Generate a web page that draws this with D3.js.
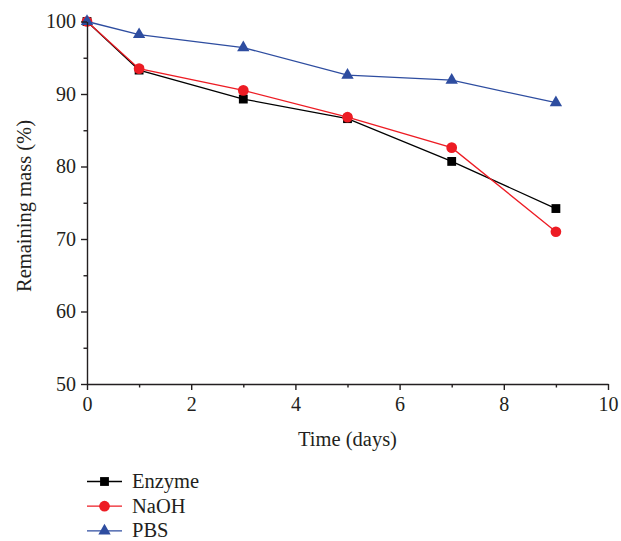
<!DOCTYPE html>
<html>
<head>
<meta charset="utf-8">
<script src="https://cdn.jsdelivr.net/npm/d3@7"></script>
<style>
  body { margin: 0; background: #fff; }
  svg text { font-family: "Liberation Serif", "DejaVu Serif", serif; fill: #231f20; }
</style>
</head>
<body>
<svg id="chart" width="621" height="541"></svg>
<script>
const days = [0, 1, 3, 5, 7, 9]
const enzyme = [100, 93.3, 89.3, 86.6, 80.7, 74.2]
const naoh = [100, 93.5, 90.5, 86.8, 82.6, 71.0]
const pbs = [100, 98.2, 96.4, 92.6, 91.9, 88.8]
const seriesNames = ['Enzyme', 'NaOH', 'PBS']
const xTicks = [0, 2, 4, 6, 8, 10]
const yTicks = [50, 60, 70, 80, 90, 100]

const series = [
  { name: seriesNames[0], values: enzyme, color: '#000000', shape: d3.symbolSquare, size: 78 },
  { name: seriesNames[1], values: naoh, color: '#ed1c24', shape: d3.symbolCircle, size: 90 },
  { name: seriesNames[2], values: pbs, color: '#2e4da0', shape: d3.symbolTriangle, size: 66 },
]

const margin = { left: 87, top: 21.5, right: 13, bottom: 157 }
const W = 621, H = 541
const svg = d3.select('#chart')

const x = d3.scaleLinear().domain([0, 10]).range([margin.left, W - margin.right])
const y = d3.scaleLinear().domain([50, 100]).range([H - margin.bottom, margin.top])

// lines + markers
const line = d3.line().x((d) => x(d[0])).y((d) => y(d[1]))
series.forEach((s) => {
  const pts = days.map((d, i) => [d, s.values[i]])
  svg.append('path')
    .attr('d', line(pts))
    .attr('fill', 'none')
    .attr('stroke', s.color)
    .attr('stroke-width', 1.3)
  svg.append('g').selectAll('path')
    .data(pts)
    .enter()
    .append('path')
    .attr('d', d3.symbol().type(s.shape).size(s.size))
    .attr('transform', (d) => `translate(${x(d[0])},${y(d[1])})`)
    .attr('fill', s.color)
})

// axes
const xAxis = svg.append('g')
  .attr('transform', `translate(0,${y(50)})`)
  .call(d3.axisBottom(x).tickValues(xTicks).tickFormat(d3.format('d')).tickSize(6).tickSizeOuter(0))
const xMinor = svg.append('g')
  .attr('transform', `translate(0,${y(50)})`)
  .call(d3.axisBottom(x).tickValues([1, 3, 5, 7, 9]).tickFormat('').tickSize(3.5).tickSizeOuter(0))
xMinor.select('.domain').remove()

const yAxis = svg.append('g')
  .attr('transform', `translate(${x(0)},0)`)
  .call(d3.axisLeft(y).tickValues(yTicks).tickFormat(d3.format('d')).tickSize(6).tickSizeOuter(0))
const yMinor = svg.append('g')
  .attr('transform', `translate(${x(0)},0)`)
  .call(d3.axisLeft(y).tickValues([55, 65, 75, 85, 95]).tickFormat('').tickSize(3.5).tickSizeOuter(0))
yMinor.select('.domain').remove()

svg.selectAll('.domain, .tick line').attr('stroke', '#231f20').attr('stroke-width', 1.4)
xAxis.selectAll('text').attr('font-size', 20).attr('y', 11).attr('dy', '0.8em')
yAxis.selectAll('text').attr('font-size', 20).attr('x', -11)
svg.selectAll('.tick text').style('font-family', '"Liberation Serif", "DejaVu Serif", serif').attr('fill', '#231f20')

// titles
svg.append('text')
  .attr('x', (x(0) + x(10)) / 2)
  .attr('y', 446)
  .attr('text-anchor', 'middle')
  .attr('font-size', 20.5)
  .text('Time (days)')

svg.append('text')
  .attr('transform', 'translate(31,206) rotate(-90)')
  .attr('text-anchor', 'middle')
  .attr('font-size', 20.5)
  .text('Remaining mass (%)')

// legend
const legend = svg.append('g')
series.forEach((s, i) => {
  const ly = 481.5 + i * 24.7
  legend.append('line')
    .attr('x1', 87).attr('x2', 122)
    .attr('y1', ly).attr('y2', ly)
    .attr('stroke', s.color)
    .attr('stroke-width', 1.3)
  legend.append('path')
    .attr('d', d3.symbol().type(s.shape).size(s.size))
    .attr('transform', `translate(104.5,${ly})`)
    .attr('fill', s.color)
  legend.append('text')
    .attr('x', 132)
    .attr('y', ly + 6.5)
    .attr('font-size', 20.5)
    .text(s.name)
})
</script>
</body>
</html>
